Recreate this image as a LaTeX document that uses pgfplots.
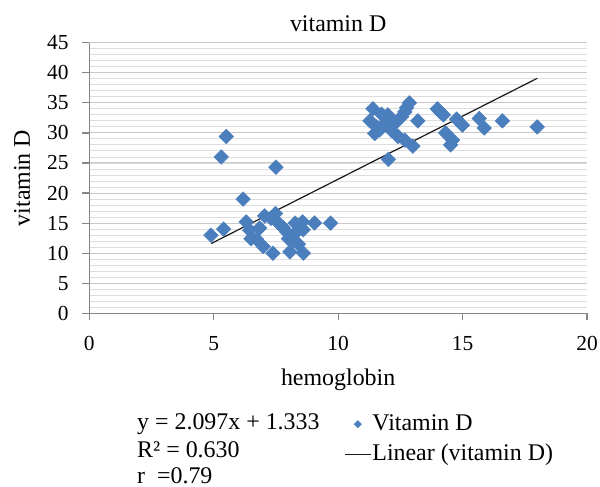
\documentclass[border=0pt]{standalone}
\usepackage{pgfplots}
\pgfplotsset{compat=1.18}
\usepackage{fontspec}
\setmainfont{Liberation Serif}
\definecolor{vdblue}{RGB}{74,126,189}
\definecolor{axgray}{RGB}{134,134,134}
\definecolor{majgrid}{RGB}{200,200,200}
\definecolor{mingrid}{RGB}{222,222,222}
\pgfplotsset{
  vdmarkleg/.style={legend image code/.code={\draw[mark repeat=2,mark phase=2,##1,mark size=2.6bp] plot coordinates {(0bp,0bp)(13bp,0bp)(26bp,0bp)};}},
  vdlineleg/.style={legend image code/.code={\draw[##1] (0bp,0bp) -- (26bp,0bp);}},
}
\begin{document}
\begin{tikzpicture}
\path[use as bounding box] (0,0) rectangle (600bp,487bp);
\begin{axis}[
  at={(89.3bp,173.7bp)}, anchor=south west,
  scale only axis, width=497.7bp, height=270.6bp,
  xmin=0, xmax=20, ymin=0, ymax=45,
  xtick={0,5,10,15,20}, ytick={0,5,...,45},
  minor ytick={0,1,...,45},
  ymajorgrids, yminorgrids,
  major grid style={majgrid, line width=1bp},
  minor grid style={mingrid, line width=0.9bp},
  axis x line*=bottom, axis y line*=left,
  axis line style={axgray, line width=1.2bp, -},
  tick style={axgray, line width=1.2bp},
  tick align=outside, major tick length=7bp, minor tick length=0pt,
  font=\fontsize{21.5}{25}\selectfont,
  /pgf/number format/assume math mode=true,
  xticklabel style={anchor=base, inner sep=0pt, yshift=-30.4bp},
  yticklabel style={anchor=east, inner sep=0pt, xshift=-13.6bp},
  title={vitamin D},
  title style={at={(0.5,1)}, anchor=base, yshift=4.8bp, font=\fontsize{24}{28}\selectfont},
  xlabel={hemoglobin},
  xlabel style={at={(0.5,0)}, anchor=base, yshift=-72.4bp, font=\fontsize{24}{28}\selectfont},
  ylabel={vitamin D},
  ylabel style={at={(0,0.5)}, anchor=center, yshift=67.3bp, font=\fontsize{24}{28}\selectfont},
  legend style={at={(0.5118,-0.3647)}, anchor=north west, draw=none, fill=none,
    font=\fontsize{24}{28}\selectfont, row sep=6bp, inner sep=0pt,
    nodes={inner xsep=1bp, inner ysep=0pt, text height=18bp, text depth=6bp}},
  legend cell align=left,
]
\addplot[only marks, mark=square*, mark size=5.2bp,
  mark options={rotate=45, fill=vdblue, draw=vdblue}, vdmarkleg]
coordinates {
(4.89,13.0) (5.4,14.0) (5.3,26.0) (5.5,29.4) (7.5,24.3) (6.18,19.0)
(6.3,15.2) (6.45,13.8) (6.5,12.4) (6.72,12.3) (6.85,14.2) (6.99,11.1)
(7.05,16.2) (7.38,10.0) (7.48,16.6) (7.6,15.0) (7.78,14.3) (7.92,13.6)
(8.0,12.4) (8.06,10.2) (8.15,12.0) (8.27,15.0) (8.32,13.5) (8.45,14.3)
(8.57,15.2) (8.6,13.9) (8.6,10.0) (8.4,11.5) (9.05,15.0) (9.7,15.0)
(7.3,15.8)
(11.4,34.0) (11.28,32.0) (11.47,29.9) (11.74,33.1) (11.87,31.6) (12.0,33.0)
(11.67,30.5) (12.14,30.4) (12.28,31.6) (12.55,32.7) (12.86,35.0) (12.68,33.5)
(12.41,29.4) (12.68,28.8) (13.0,27.8) (13.2,32.0) (12.02,25.6) (11.55,31.0)
(12.1,32.0) (12.75,34.2)
(13.99,34.0) (14.23,33.0) (14.32,30.0) (14.52,28.0) (14.6,28.8) (14.76,32.3)
(14.99,31.3) (15.67,32.4) (15.87,30.8) (16.6,32.0) (18.0,31.0) (14.1,33.5)
};
\addlegendentry{Vitamin D}
\addplot[black!90, line width=1.2bp, vdlineleg]
coordinates {(4.9,11.608) (18.0,39.079)};
\addlegendentry{Linear (vitamin D)}
\end{axis}
\begin{scope}[font=\fontsize{24}{28}\selectfont]
\node[anchor=base west, inner sep=0pt] at (137bp,57bp) {y = 2.097x + 1.333};
\node[anchor=base west, inner sep=0pt] at (137bp,29.3bp) {R² = 0.630};
\node[anchor=base west, inner sep=0pt] at (137bp,4bp) {r\ \ =0.79};
\end{scope}
\end{tikzpicture}
\end{document}
